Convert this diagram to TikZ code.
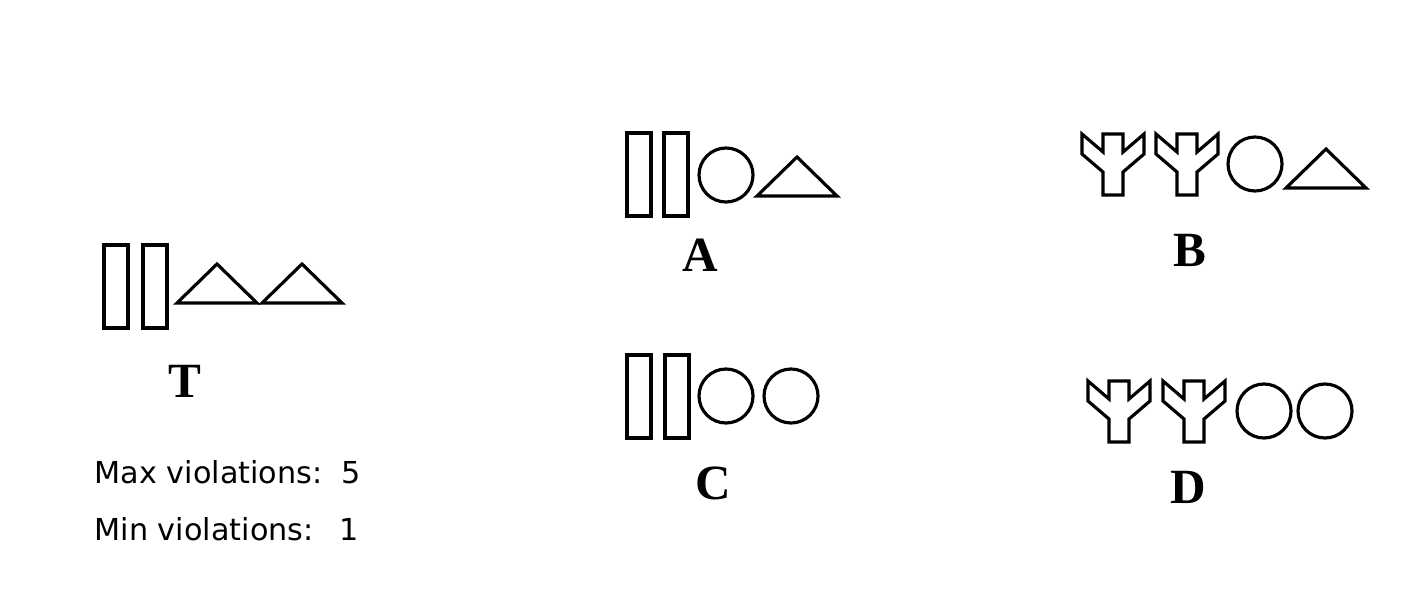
\documentclass[tikz,border=0pt]{standalone}
\usepackage{fontspec}
\setmainfont{Liberation Serif}
\newfontfamily\infofont{DejaVu Sans}
\usetikzlibrary{positioning}
\tikzset{
  shape line/.style={line width=0.9pt, line join=miter},
  letter/.style={font=\fontsize{14}{16}\selectfont\bfseries, inner sep=0pt, anchor=base},
  info/.style={font=\infofont\fontsize{8.6}{10}\selectfont, inner sep=0pt, anchor=base west},
  % the four symbols, sizes in pixels of the figure
  bar/.pic={\draw[shape line] (0,0) rectangle (24,83);},
  wedge/.pic={\draw[shape line] (0,0) -- (40,-39) -- (80,0) -- cycle;},
  ring/.pic={\draw[shape line] (0,0) circle [radius=27];},
  fork/.pic={\draw[shape line] (0,0) -- (0,20) -- (21,38) -- (21,61) -- (41,61)
    -- (41,38) -- (62,20) -- (62,0) -- (41,18) -- (41,0) -- (21,0) -- (21,18) -- cycle;},
}

\begin{document}
\begin{tikzpicture}[x=0.01cm, y=-0.01cm]
  \useasboundingbox (0,0) rectangle (1416,600);
  % target
  \foreach \x in {104,143}
    \pic at (\x,245) {bar};
  \foreach \x in {177,262}
    \pic at (\x,303) {wedge};
  \node[letter] (lblT) at (185,397) {T};
  \node[info] (maxv) at (94,483) {Max violations:\ \ 5};
  \node[info] (minv) at (94,540) {Min violations:\hspace{0.86em}1};
  % option A
  \foreach \x in {627,664}
    \pic at (\x,133) {bar};
  \pic at (726,175) {ring};
  \pic at (757,196) {wedge};
  \node[letter] (lblA) at (700,271) {A};
  % option B
  \foreach \x in {1082,1156}
    \pic at (\x,134) {fork};
  \pic at (1255,164) {ring};
  \pic at (1286,188) {wedge};
  \node[letter] (lblB) at (1190,266) {B};
  % option C
  \foreach \x in {627,665}
    \pic at (\x,355) {bar};
  \foreach \x in {726,791}
    \pic at (\x,396) {ring};
  \node[letter] (lblC) at (713,499) {C};
  % option D
  \foreach \x in {1088,1163}
    \pic at (\x,381) {fork};
  \foreach \x in {1264,1325}
    \pic at (\x,411) {ring};
  \node[letter] (lblD) at (1188,503) {D};
\end{tikzpicture}
\end{document}
